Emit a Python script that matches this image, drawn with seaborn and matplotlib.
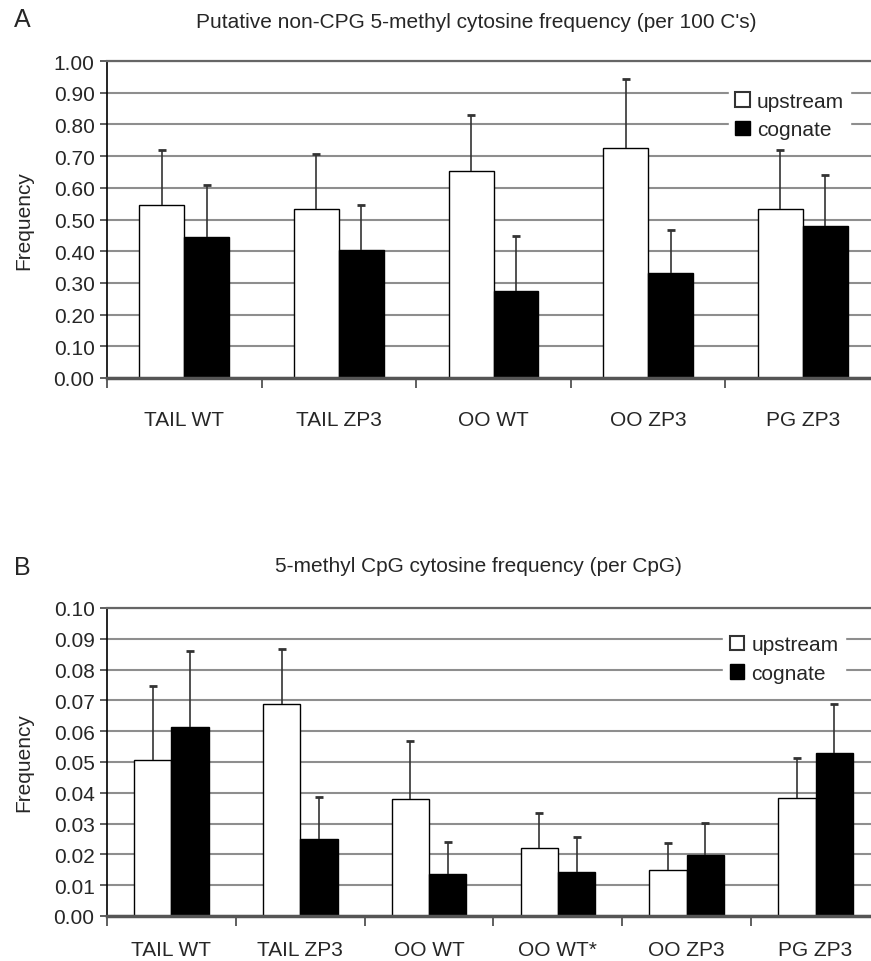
import numpy as np
import pandas as pd

import matplotlib as mpl
mpl.use('Agg')
import matplotlib.pyplot as plt
from matplotlib.patches import Patch
import seaborn as sns

sns.set_style('white')
plt.rcParams['font.family'] = ['Liberation Sans', 'DejaVu Sans']

# panel A: putative non-CpG 5-methyl cytosine frequency
groups_a = ['TAIL WT', 'TAIL ZP3', 'OO WT', 'OO ZP3', 'PG ZP3']
upstream_a = [0.546, 0.532, 0.654, 0.727, 0.532]
upstream_a_sd = [0.174, 0.175, 0.176, 0.216, 0.188]
cognate_a = [0.444, 0.404, 0.273, 0.332, 0.480]
cognate_a_sd = [0.166, 0.142, 0.174, 0.135, 0.161]

# panel B: 5-methyl CpG cytosine frequency
groups_b = ['TAIL WT', 'TAIL ZP3', 'OO WT', 'OO WT*', 'OO ZP3', 'PG ZP3']
upstream_b = [0.0507, 0.0687, 0.0379, 0.0221, 0.0148, 0.0382]
upstream_b_sd = [0.0240, 0.0179, 0.0188, 0.0113, 0.0090, 0.0132]
cognate_b = [0.0615, 0.0250, 0.0136, 0.0144, 0.0198, 0.0528]
cognate_b_sd = [0.0245, 0.0137, 0.0103, 0.0111, 0.0103, 0.0159]

series_names = ['upstream', 'cognate']
fsize = 15


def draw_panel(ax, groups, up, up_sd, cog, cog_sd, ymax, step,
               xlab_pad, leg_anchor):
    n = len(groups)
    df = pd.DataFrame({'group': groups * 2,
                       'series': [series_names[0]] * n + [series_names[1]] * n,
                       'value': up + cog})

    ax.set_axisbelow(True)
    ax.yaxis.grid(True, color='#8e8e8e', linewidth=1.5)

    sns.barplot(data=df, x='group', y='value', hue='series', order=groups,
                hue_order=series_names, palette=['white', 'black'],
                edgecolor='black', linewidth=1, width=0.58, gap=0,
                saturation=1, errorbar=None, legend=False, ax=ax)

    # only the upper half of each error bar is shown
    for cont, sd in zip(ax.containers, [up_sd, cog_sd]):
        xs = [b.get_x() + b.get_width() / 2 for b in cont]
        ys = [b.get_height() for b in cont]
        _, caps, _ = ax.errorbar(xs, ys, yerr=[np.zeros(len(sd)), sd],
                                 fmt='none', ecolor='#333333',
                                 elinewidth=1.2, capsize=3, capthick=2)
        caps[0].set_visible(False)

    ax.set_xlim(-0.5, n - 0.5)
    ax.set_ylim(0, ymax)
    yt = np.arange(0, ymax + step / 2, step)
    ax.set_yticks(yt)
    ax.set_yticklabels(['{:.2f}'.format(v) for v in yt])

    ax.set_xticks(range(n))
    ax.set_xticklabels(groups)
    ax.set_xticks(np.arange(-0.5, n, 1), minor=True)
    ax.tick_params(axis='x', which='major', length=0, pad=xlab_pad,
                   labelsize=fsize)
    ax.tick_params(axis='x', which='minor', length=7, width=1.2,
                   color='#444444', direction='out', bottom=True)
    ax.tick_params(axis='y', length=5, width=1.2, color='#444444',
                   direction='out', left=True, pad=4, labelsize=fsize)

    ax.set_xlabel('')
    ax.set_ylabel('Frequency', fontsize=fsize)
    ax.yaxis.set_label_coords(-0.096, 0.5)

    ax.spines['left'].set_color('black')
    ax.spines['left'].set_linewidth(1.2)
    ax.spines['bottom'].set_color('#555555')
    ax.spines['bottom'].set_linewidth(2.5)
    ax.spines['top'].set_color('#666666')
    ax.spines['top'].set_linewidth(1.6)
    ax.spines['right'].set_visible(False)

    handles = [Patch(facecolor='white', edgecolor='#333333', linewidth=1.5),
               Patch(facecolor='black', edgecolor='black')]
    ax.legend(handles, series_names, loc='upper right',
              bbox_to_anchor=leg_anchor, frameon=True, framealpha=1,
              facecolor='white', edgecolor='white', fancybox=False,
              handlelength=0.7, handleheight=0.7, handletextpad=0.35,
              labelspacing=0.45, borderpad=0.3, fontsize=fsize)


fig = plt.figure(figsize=(8.71, 9.62), dpi=100)
ax_a = fig.add_axes([107 / 871, (962 - 379) / 962, 773 / 871, 317 / 962])
ax_b = fig.add_axes([107 / 871, (962 - 917) / 962, 773 / 871, 308 / 962])

draw_panel(ax_a, groups_a, upstream_a, upstream_a_sd, cognate_a, cognate_a_sd,
           1.0, 0.1, 23, (0.975, 0.955))
draw_panel(ax_b, groups_b, upstream_b, upstream_b_sd, cognate_b, cognate_b_sd,
           0.1, 0.01, 17, (0.968, 0.966))

fig.text(476 / 871, 1 - 22 / 962,
         "Putative non-CPG 5-methyl cytosine frequency (per 100 C's)",
         ha='center', va='center', fontsize=fsize)
fig.text(22 / 871, 1 - 20 / 962, 'A', ha='center', va='center', fontsize=18)
fig.text(478 / 871, 1 - 567 / 962,
         "5-methyl CpG cytosine frequency (per CpG)",
         ha='center', va='center', fontsize=fsize)
fig.text(22 / 871, 1 - 568 / 962, 'B', ha='center', va='center', fontsize=18)

fig.savefig('out.png', dpi=100, facecolor='white')
plt.close()
